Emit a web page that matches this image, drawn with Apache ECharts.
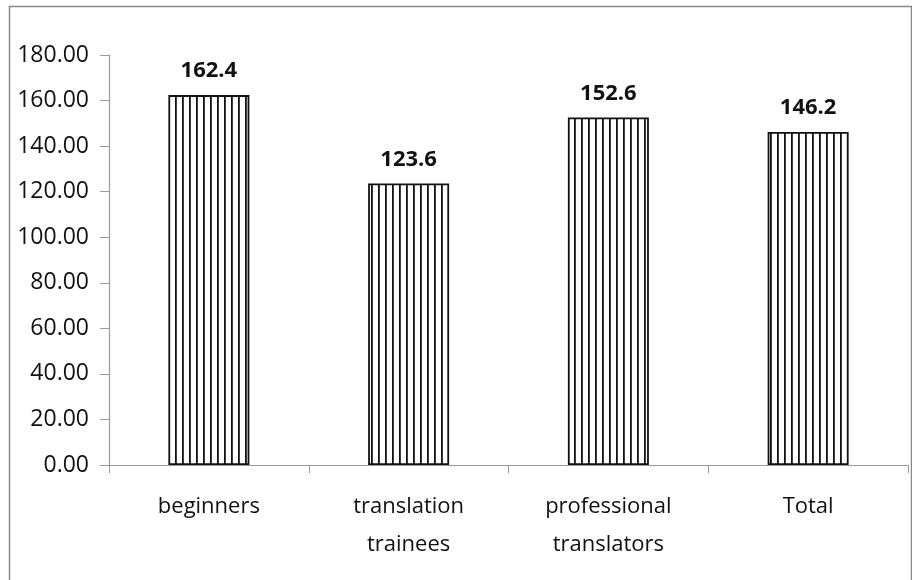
<!DOCTYPE html>
<html>
<head>
<meta charset="utf-8">
<script src="https://cdn.jsdelivr.net/npm/echarts@6/dist/echarts.min.js"></script>
<style>
  html, body { margin: 0; padding: 0; background: #fff; }
  #chart { width: 912px; height: 580px; }
</style>
</head>
<body>
<div id="chart"></div>
<script>
// Mean scores per participant group
const categories = ['beginners', 'translation\ntrainees', 'professional\ntranslators', 'Total'];
const meanValues = [162.4, 123.6, 152.6, 146.2];
const yTicks = { min: 0, max: 180, step: 20 };

// Vertical hatch fill for the bars
function makeHatch() {
  const c = document.createElement('canvas');
  c.width = 7;
  c.height = 10;
  const ctx = c.getContext('2d');
  ctx.fillStyle = '#ffffff';
  ctx.fillRect(0, 0, 7, 10);
  ctx.fillStyle = '#111111';
  ctx.fillRect(0, 0, 1.8, 10);
  return c;
}

const fontFamily = '"Open Sans", "Noto Sans", sans-serif';
const chart = echarts.init(document.getElementById('chart'));

chart.setOption({
  animation: false,
  backgroundColor: '#ffffff',
  graphic: [{
    type: 'rect',
    shape: { x: 9.5, y: 6.5, width: 902, height: 620 },
    style: { fill: 'none', stroke: '#8a8a8a', lineWidth: 1.5 },
    silent: true
  }],
  grid: { left: 109, right: 4, top: 55, bottom: 115 },
  xAxis: {
    type: 'category',
    data: categories,
    axisLine: { lineStyle: { color: '#9a9a9a', width: 1.2 } },
    axisTick: { show: true, alignWithLabel: false, length: 8, lineStyle: { color: '#9a9a9a' } },
    axisLabel: {
      color: '#111',
      fontFamily: fontFamily,
      fontSize: 22,
      lineHeight: 38,
      margin: 23,
      interval: 0
    }
  },
  yAxis: {
    type: 'value',
    min: yTicks.min,
    max: yTicks.max,
    interval: yTicks.step,
    splitLine: { show: false },
    axisLine: { show: true, lineStyle: { color: '#9a9a9a', width: 1.2 } },
    axisTick: { show: true, length: 9, lineStyle: { color: '#9a9a9a' } },
    axisLabel: {
      color: '#111',
      fontFamily: fontFamily,
      fontSize: 23,
      margin: 20,
      formatter: v => v.toFixed(2)
    }
  },
  series: [{
    type: 'bar',
    data: meanValues,
    barWidth: 81,
    itemStyle: {
      color: { image: makeHatch(), repeat: 'repeat' },
      borderColor: '#111',
      borderWidth: 1.8
    },
    label: {
      show: true,
      position: 'top',
      distance: 13,
      color: '#111',
      fontFamily: fontFamily,
      fontWeight: 'bold',
      fontSize: 22,
      formatter: p => p.value.toFixed(1)
    }
  }]
});
</script>
</body>
</html>
